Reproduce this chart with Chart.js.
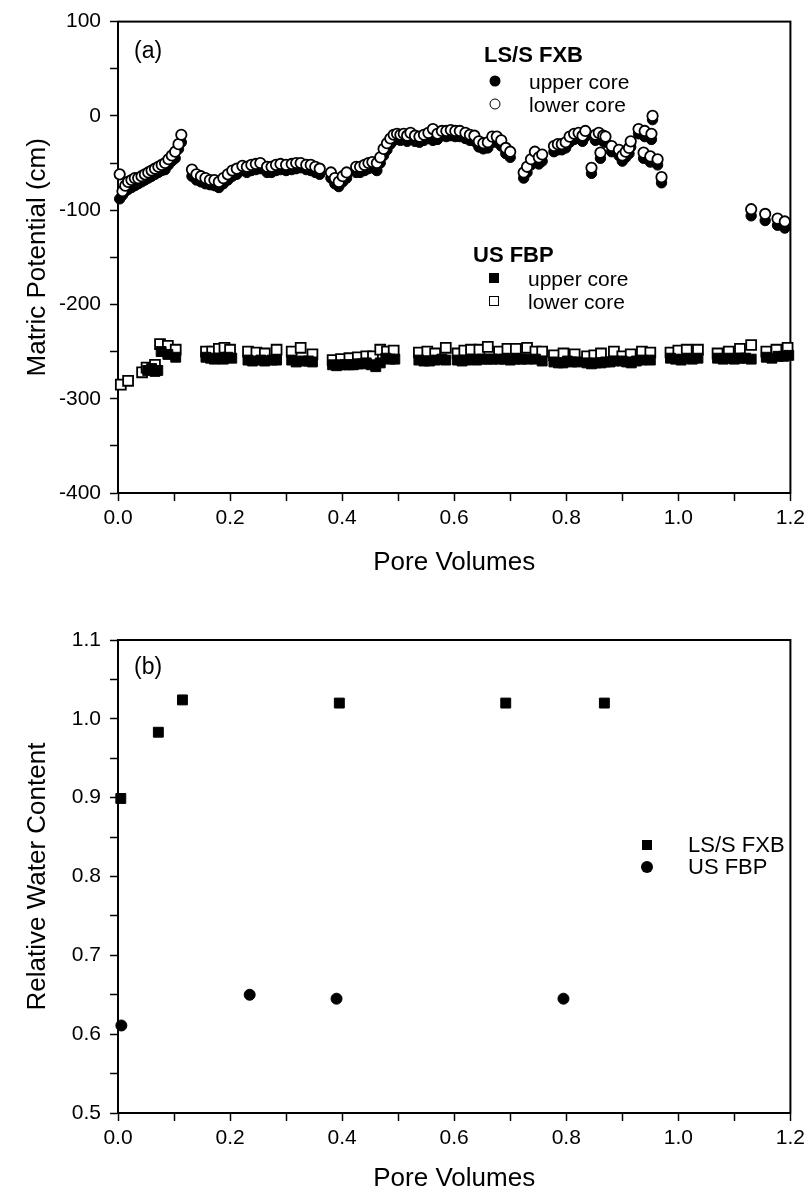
<!DOCTYPE html>
<html>
<head>
<meta charset="utf-8">
<script src="https://cdn.jsdelivr.net/npm/chart.js@4"></script>
<style>
  body { margin: 0; background: #fff; }
  #wrap { position: relative; width: 810px; height: 1192px; font-family: "Liberation Sans", Arial, Helvetica, sans-serif; color: #000; }
  canvas { position: absolute; left: 0; }
  .t { position: absolute; white-space: nowrap; transform: translateY(-50%); line-height: 1; }
  .b { font-weight: bold; }
  .m { position: absolute; box-sizing: border-box; transform: translate(-50%, -50%); }
  .fc { width: 11px; height: 11px; border-radius: 50%; background: #000; }
  .oc { width: 11px; height: 11px; border-radius: 50%; background: #fff; border: 1.8px solid #000; }
  .fs { width: 10px; height: 10px; background: #000; }
  .os { width: 10px; height: 10px; background: #fff; border: 1.8px solid #000; }
</style>
</head>
<body>
<div id="wrap">
  <canvas id="chartA" width="810" height="600" style="top:0"></canvas>
  <canvas id="chartB" width="810" height="592" style="top:600px"></canvas>

  <div class="t" style="left:134px;top:50px;font-size:23px">(a)</div>
  <div class="t b" style="left:484px;top:55px;font-size:22px">LS/S FXB</div>
  <div class="m fc" style="left:495px;top:81px"></div>
  <div class="t" style="left:529px;top:81px;font-size:21px">upper core</div>
  <div class="m oc" style="left:495px;top:104px"></div>
  <div class="t" style="left:529px;top:104px;font-size:21px">lower core</div>
  <div class="t b" style="left:473px;top:255px;font-size:22px">US FBP</div>
  <div class="m fs" style="left:494px;top:278px"></div>
  <div class="t" style="left:528px;top:278px;font-size:21px">upper core</div>
  <div class="m os" style="left:494px;top:301px"></div>
  <div class="t" style="left:528px;top:301px;font-size:21px">lower core</div>

  <div class="t" style="left:134px;top:666px;font-size:23px">(b)</div>
  <div class="m fs" style="left:647px;top:845px"></div>
  <div class="t" style="left:688px;top:845px;font-size:22px">LS/S FXB</div>
  <div class="m fc" style="left:647px;top:867px;width:12px;height:12px"></div>
  <div class="t" style="left:688px;top:867px;font-size:22px">US FBP</div>
</div>
<script>
// panel (a): LS/S FXB, circles
const circX = [
  0.003,0.008,0.013,0.018,0.024,0.030,0.036,0.042,0.048,0.054,0.060,0.066,0.072,0.078,0.084,0.090,0.096,0.102,0.108,0.113,
  0.132,0.140,0.148,0.156,0.164,0.172,0.180,0.188,0.196,0.204,0.212,0.222,0.230,0.238,0.246,0.254,0.266,0.274,0.282,0.290,0.300,0.310,0.318,0.326,0.336,0.344,0.352,0.360,
  0.380,0.387,0.394,0.401,0.408,0.425,0.432,0.440,0.447,0.454,0.462,0.468,0.474,0.480,0.486,0.492,0.498,
  0.504,0.510,0.516,0.522,0.530,0.538,0.546,0.554,0.562,0.570,0.578,0.586,0.594,0.602,0.610,
  0.620,0.628,0.636,0.644,0.652,0.660,0.668,0.676,0.684,0.692,0.700,
  0.724,0.730,0.737,0.744,0.751,0.757,0.778,0.785,0.792,0.799,0.806,0.814,0.822,0.829,0.834,
  0.845,0.852,0.858,0.861,0.866,0.870,0.881,0.894,0.900,0.906,0.912,0.915,0.929,0.938,0.940,0.950,0.952,0.954,0.963,0.970,
  1.130,1.155,1.177,1.190
];
const upperCirc = [
  -88,-84,-80,-78,-76,-74,-72,-70,-68,-66,-64,-62,-60,-58,-57,-52,-48,-45,-35,-28,
  -64,-68,-70,-72,-73,-74,-76,-72,-68,-64,-62,-58,-60,-58,-57,-56,-60,-60,-58,-57,-58,-57,-56,-55,-57,-58,-60,-62,
  -66,-72,-75,-70,-66,-60,-60,-58,-56,-55,-58,-50,-42,-36,-30,-26,-25,
  -26,-25,-27,-24,-27,-28,-26,-24,-26,-25,-21,-22,-21,-22,-22,
  -24,-26,-27,-33,-35,-34,-28,-28,-32,-40,-44,
  -66,-60,-52,-49,-51,-48,-38,-36,-36,-34,-28,-25,-24,-27,-22,
  -61,-26,-24,-45,-27,-28,-38,-42,-48,-44,-40,-33,-19,-45,-22,-49,-25,-4,-52,-71,
  -106,-111,-116,-119
];
const lowerCirc = [
  -62,-80,-74,-70,-68,-66,-66,-64,-62,-60,-58,-56,-54,-52,-50,-46,-42,-38,-30,-20,
  -57,-62,-64,-66,-68,-68,-70,-66,-62,-58,-56,-53,-54,-52,-51,-50,-54,-54,-52,-51,-52,-51,-50,-50,-52,-52,-54,-56,
  -60,-66,-70,-64,-60,-54,-54,-52,-50,-49,-50,-44,-35,-29,-24,-20,-19,
  -20,-19,-21,-18,-21,-22,-20,-18,-14,-19,-16,-16,-15,-16,-16,
  -18,-20,-21,-27,-29,-28,-22,-22,-26,-34,-38,
  -60,-54,-46,-38,-44,-41,-32,-30,-30,-28,-22,-19,-18,-21,-16,
  -55,-20,-18,-39,-21,-22,-32,-36,-42,-38,-34,-27,-14,-39,-16,-43,-19,0,-46,-65,
  -99,-104,-109,-112
];

// panel (a): US FBP, squares
const upperSqX = [
  0.053,0.060,0.066,0.071,0.077,0.089,0.103,
  0.157,0.165,0.172,0.180,0.188,0.196,0.203,
  0.232,0.240,0.255,0.262,0.275,0.283,
  0.310,0.318,0.330,0.340,0.347,
  0.383,0.390,0.398,0.405,0.413,0.420,0.428,0.436,0.443,0.452,0.460,0.468,
  0.478,0.486,0.494,
  0.537,0.546,0.556,0.566,0.578,0.585,
  0.606,0.614,0.622,0.630,0.640,0.650,0.660,0.668,
  0.680,0.690,0.700,0.710,0.720,0.730,0.745,0.757,
  0.778,0.786,0.794,0.802,0.810,0.820,
  0.837,0.845,0.853,0.862,0.870,0.878,0.885,
  0.900,0.908,0.916,0.925,0.935,0.950,
  0.986,0.995,1.005,1.015,1.025,1.035,
  1.070,1.080,1.090,1.100,1.110,1.120,1.130,
  1.157,1.167,1.178,1.188,1.197
];
const upperSq = [
  -270,-268,-271,-270,-250,-253,-256,
  -256,-257,-258,-257,-258,-256,-257,
  -259,-260,-259,-260,-259,-259,
  -259,-261,-260,-260,-261,
  -264,-265,-264,-264,-264,-264,-263,-263,-262,-264,-266,-262,
  -257,-258,-258,
  -259,-260,-260,-259,-258,-259,
  -259,-260,-259,-258,-259,-258,-258,-258,
  -258,-258,-259,-258,-258,-258,-258,-260,
  -261,-262,-262,-260,-261,-261,
  -262,-263,-262,-262,-261,-261,-260,
  -260,-261,-262,-260,-259,-259,
  -257,-258,-259,-257,-258,-257,
  -257,-258,-257,-258,-257,-257,-258,
  -256,-257,-255,-255,-254
];
const lowerSqX = [
  0.005,0.018,0.043,0.051,0.066,0.075,0.089,0.103,
  0.157,0.168,0.180,0.190,0.200,
  0.232,0.247,0.262,0.283,
  0.310,0.326,0.347,
  0.383,0.398,0.413,0.428,0.443,0.455,0.468,
  0.480,0.492,
  0.537,0.552,0.566,0.585,
  0.606,0.618,0.630,0.645,0.660,
  0.680,0.695,0.710,0.730,0.745,0.757,
  0.778,0.795,0.815,
  0.837,0.850,0.862,0.885,
  0.900,0.915,0.935,0.950,
  0.986,1.000,1.015,1.035,
  1.070,1.090,1.110,1.130,
  1.157,1.175,1.195
];
const lowerSq = [
  -285,-281,-272,-267,-264,-242,-244,-248,
  -250,-250,-247,-246,-248,
  -250,-251,-252,-248,
  -250,-246,-253,
  -259,-258,-257,-256,-255,-255,-248,
  -250,-249,
  -251,-250,-252,-246,
  -252,-249,-248,-248,-245,
  -250,-247,-247,-246,-250,-250,
  -254,-252,-253,
  -255,-254,-252,-250,
  -255,-253,-250,-251,
  -251,-249,-248,-248,
  -252,-250,-247,-243,
  -250,-248,-246
];

// panel (b)
const fxbX = [0.005, 0.072, 0.115, 0.395, 0.692, 0.868];
const fxbY = [0.899, 0.983, 1.024, 1.020, 1.020, 1.020];
const fbpX = [0.006, 0.235, 0.390, 0.795];
const fbpY = [0.611, 0.650, 0.645, 0.645];

const FONT = '"Liberation Sans", Arial, Helvetica, sans-serif';
Chart.defaults.font.family = FONT;
Chart.defaults.color = '#000';

function pts(xs, ys) {
  return xs.map((x, i) => ({ x: x, y: ys[i] }));
}

const frame = {
  id: 'frame',
  beforeDatasetsDraw(chart) {
    const a = chart.chartArea, c = chart.ctx;
    c.save();
    c.strokeStyle = '#000';
    c.lineWidth = 2;
    c.strokeRect(a.left, a.top, a.right - a.left, a.bottom - a.top);
    c.restore();
  }
};

function xScale(h, pad) {
  return {
    type: 'linear', min: 0, max: 1.2,
    ticks: {
      stepSize: 0.1, autoSkip: false, maxRotation: 0, padding: 5,
      font: { size: 21 },
      callback: v => (Math.round(v * 10) % 2 === 0 ? v.toFixed(1) : '')
    },
    grid: { drawOnChartArea: false, tickLength: 8, tickColor: '#000', tickWidth: 1.5 },
    border: { color: '#000', width: 2 },
    title: { display: true, text: 'Pore Volumes', font: { size: 26, lineHeight: 1 }, padding: { top: 0, bottom: pad } },
    afterFit: s => { s.height = h; }
  };
}

function yScale(min, max, step, label, cb) {
  return {
    type: 'linear', min: min, max: max,
    ticks: { stepSize: step, autoSkip: false, padding: 9, font: { size: 21 }, callback: cb },
    grid: { drawOnChartArea: false, tickLength: 8, tickColor: '#000', tickWidth: 1.5 },
    border: { color: '#000', width: 2 },
    title: { display: true, text: label, font: { size: 26, lineHeight: 1 }, padding: { top: 25, bottom: 0 } },
    afterFit: s => { s.width = 118; }
  };
}

const common = {
  responsive: false,
  devicePixelRatio: 1,
  animation: false,
  events: [],
  plugins: { legend: { display: false }, tooltip: { enabled: false } }
};

new Chart(document.getElementById('chartA'), {
  type: 'scatter',
  data: {
    datasets: [
      { label: 'LS/S FXB lower core', data: pts(circX, lowerCirc), pointStyle: 'circle', pointRadius: 5.2,
        backgroundColor: '#fff', borderColor: '#000', pointBorderWidth: 1.8, clip: false },
      { label: 'LS/S FXB upper core', data: pts(circX, upperCirc), pointStyle: 'circle', pointRadius: 5.2,
        backgroundColor: '#000', borderColor: '#000', pointBorderWidth: 1, clip: false },
      { label: 'US FBP upper core', data: pts(upperSqX, upperSq), pointStyle: 'rect', pointRadius: 7,
        backgroundColor: '#000', borderColor: '#000', pointBorderWidth: 1, clip: false },
      { label: 'US FBP lower core', data: pts(lowerSqX, lowerSq), pointStyle: 'rect', pointRadius: 7,
        backgroundColor: '#fff', borderColor: '#000', pointBorderWidth: 1.8, clip: false }
    ]
  },
  options: Object.assign({}, common, {
    layout: { padding: { top: 21, right: 18, left: 0, bottom: 0 } },
    scales: {
      x: xScale(107, 24),
      y: yScale(-400, 100, 50, 'Matric Potential (cm)', v => (v % 100 === 0 ? v : ''))
    }
  }),
  plugins: [frame]
});

new Chart(document.getElementById('chartB'), {
  type: 'scatter',
  data: {
    datasets: [
      { label: 'LS/S FXB', data: pts(fxbX, fxbY), pointStyle: 'rect', pointRadius: 7,
        backgroundColor: '#000', borderColor: '#000', pointBorderWidth: 1, clip: false },
      { label: 'US FBP', data: pts(fbpX, fbpY), pointStyle: 'circle', pointRadius: 5.5,
        backgroundColor: '#000', borderColor: '#000', pointBorderWidth: 1, clip: false }
    ]
  },
  options: Object.assign({}, common, {
    layout: { padding: { top: 40, right: 18, left: 0, bottom: 0 } },
    scales: {
      x: xScale(79, 0),
      y: yScale(0.5, 1.1, 0.05, 'Relative Water Content',
        v => (Math.round(v * 100) % 10 === 0 ? v.toFixed(1) : ''))
    }
  }),
  plugins: [frame]
});
</script>
</body>
</html>
